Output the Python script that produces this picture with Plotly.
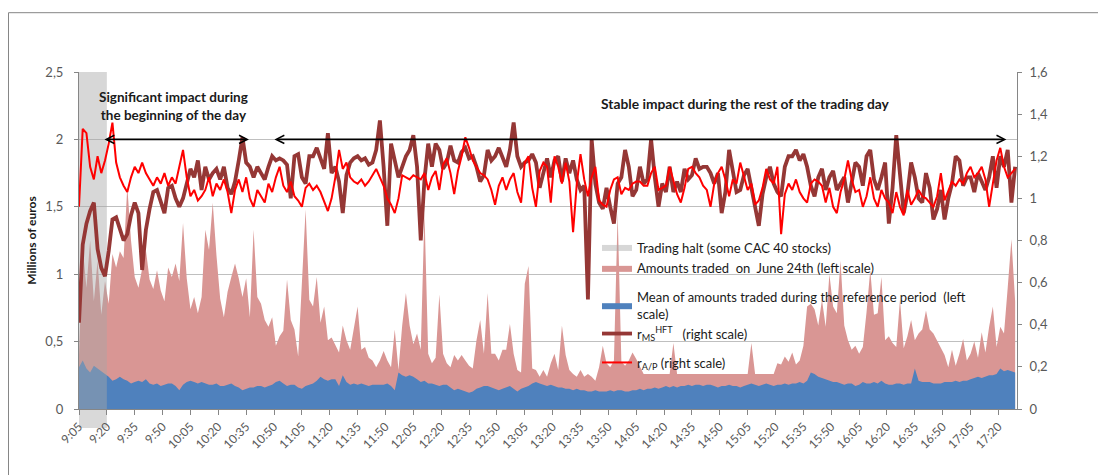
import plotly.graph_objects as go

# ---------------- data ----------------
# one observation every 2 minutes, minutes counted from 9:05
minutes = list(range(0, 505, 2))

tick_labels = ["9:05", "9:20", "9:35", "9:50", "10:05", "10:20", "10:35", "10:50",
               "11:05", "11:20", "11:35", "11:50", "12:05", "12:20", "12:35", "12:50",
               "13:05", "13:20", "13:35", "13:50", "14:05", "14:20", "14:35", "14:50",
               "15:05", "15:20", "15:35", "15:50", "16:05", "16:20", "16:35", "16:50",
               "17:05", "17:20"]
tick_minutes = list(range(0, 496, 15))

# Amounts traded on June 24th (millions of euros, left scale)
amounts_june24 = [
    0.40, 1.20, 0.90, 1.25, 0.80, 1.10, 0.70, 0.95, 0.78, 1.15,
    1.05, 1.17, 1.12, 1.65, 1.25, 0.98, 0.90, 1.03, 1.18, 0.96,
    0.89, 1.03, 0.88, 0.80, 1.05, 0.98, 1.08, 0.95, 1.38, 0.97,
    0.74, 0.83, 0.71, 0.83, 1.33, 1.18, 1.53, 1.14, 0.82, 0.68,
    0.87, 0.98, 1.08, 0.97, 0.83, 0.97, 0.68, 1.33, 0.83, 0.78,
    0.66, 0.61, 0.68, 0.47, 0.54, 0.58, 0.96, 0.66, 0.59, 0.39,
    0.95, 1.48, 0.81, 0.76, 0.98, 0.64, 0.76, 0.51, 0.53, 0.48,
    0.42, 0.62, 0.51, 0.44, 0.59, 0.76, 0.44, 0.46, 0.38, 0.36,
    0.31, 0.36, 0.43, 0.36, 0.31, 0.59, 0.29, 0.62, 0.86, 0.62,
    0.48, 0.56, 0.44, 1.46, 0.41, 0.34, 0.38, 0.85, 0.41, 0.34,
    0.31, 0.40, 0.36, 0.40, 0.36, 0.32, 0.30, 0.51, 0.66, 0.41,
    0.86, 0.41, 0.41, 0.36, 0.44, 0.44, 0.63, 0.41, 0.29, 0.27,
    0.93, 1.06, 0.30, 0.29, 0.24, 0.29, 0.24, 0.34, 0.41, 0.29,
    0.62, 0.40, 0.29, 0.26, 0.24, 0.29, 0.24, 0.26, 0.24, 0.21,
    0.31, 0.47, 0.34, 0.31, 0.36, 1.45, 0.35, 0.32, 0.36, 0.42,
    0.37, 0.31, 0.26, 0.26, 0.26, 0.26, 0.26, 0.26, 0.26, 0.26,
    0.49, 0.26, 0.26, 0.26, 0.26, 0.26, 0.26, 0.26, 0.26, 0.26,
    0.26, 0.26, 0.26, 0.26, 0.26, 0.26, 0.26, 0.26, 0.26, 0.26,
    0.26, 0.49, 0.26, 0.26, 0.26, 0.26, 0.26, 0.26, 0.34, 0.33,
    0.39, 0.35, 0.42, 0.33, 0.36, 0.47, 0.76, 0.78, 0.74, 0.62,
    0.81, 0.61, 1.00, 0.76, 0.71, 1.10, 0.62, 0.51, 0.44, 0.47,
    0.41, 0.46, 0.72, 1.03, 0.70, 0.71, 0.98, 0.51, 0.54, 0.49,
    0.46, 0.81, 0.45, 0.54, 0.66, 0.51, 0.56, 0.59, 0.73, 0.59,
    0.56, 0.51, 0.46, 0.40, 0.31, 0.44, 0.32, 0.41, 0.52, 0.36,
    0.41, 0.50, 0.38, 0.57, 0.42, 0.61, 0.76, 0.46, 0.61, 0.56,
    0.90, 1.26, 0.80,
]

# Mean of amounts traded during the reference period (left scale)
amounts_reference = [
    0.31, 0.36, 0.30, 0.27, 0.32, 0.30, 0.28, 0.26, 0.24, 0.21,
    0.22, 0.24, 0.22, 0.21, 0.19, 0.20, 0.21, 0.20, 0.22, 0.19,
    0.18, 0.19, 0.17, 0.18, 0.19, 0.19, 0.17, 0.14, 0.18, 0.20,
    0.21, 0.20, 0.19, 0.20, 0.19, 0.18, 0.18, 0.19, 0.17, 0.17,
    0.18, 0.19, 0.17, 0.16, 0.14, 0.15, 0.16, 0.16, 0.17, 0.17,
    0.16, 0.17, 0.18, 0.20, 0.21, 0.19, 0.17, 0.18, 0.18, 0.16,
    0.15, 0.17, 0.18, 0.19, 0.21, 0.24, 0.22, 0.21, 0.22, 0.22,
    0.17, 0.25, 0.20, 0.18, 0.19, 0.18, 0.19, 0.18, 0.17, 0.18,
    0.18, 0.18, 0.18, 0.19, 0.17, 0.14, 0.27, 0.25, 0.24, 0.25,
    0.24, 0.22, 0.20, 0.21, 0.19, 0.19, 0.18, 0.17, 0.18, 0.18,
    0.16, 0.14, 0.15, 0.14, 0.13, 0.12, 0.13, 0.15, 0.16, 0.17,
    0.17, 0.16, 0.15, 0.14, 0.15, 0.16, 0.17, 0.15, 0.13, 0.15,
    0.16, 0.17, 0.19, 0.20, 0.19, 0.18, 0.17, 0.18, 0.17, 0.16,
    0.16, 0.15, 0.15, 0.14, 0.15, 0.14, 0.14, 0.13, 0.13, 0.14,
    0.13, 0.13, 0.13, 0.14, 0.13, 0.14, 0.14, 0.13, 0.13, 0.14,
    0.14, 0.15, 0.14, 0.15, 0.15, 0.16, 0.15, 0.16, 0.17, 0.16,
    0.17, 0.16, 0.17, 0.17, 0.18, 0.17, 0.18, 0.18, 0.17, 0.18,
    0.18, 0.17, 0.16, 0.17, 0.17, 0.18, 0.17, 0.17, 0.16, 0.17,
    0.18, 0.19, 0.18, 0.17, 0.18, 0.19, 0.18, 0.17, 0.18, 0.18,
    0.19, 0.18, 0.19, 0.19, 0.20, 0.19, 0.21, 0.27, 0.26, 0.24,
    0.23, 0.22, 0.21, 0.20, 0.20, 0.19, 0.18, 0.19, 0.19, 0.17,
    0.18, 0.20, 0.19, 0.19, 0.20, 0.19, 0.21, 0.19, 0.18, 0.18,
    0.19, 0.19, 0.18, 0.19, 0.19, 0.30, 0.21, 0.20, 0.20, 0.20,
    0.19, 0.19, 0.19, 0.20, 0.20, 0.20, 0.21, 0.20, 0.21, 0.21,
    0.22, 0.23, 0.24, 0.23, 0.24, 0.25, 0.25, 0.26, 0.30, 0.28,
    0.29, 0.28, 0.27,
]

# r_MS^HFT (right scale)
r_ms_hft = [
    0.41, 0.78, 0.88, 0.94, 0.98, 0.76, 0.67, 0.63, 0.75, 0.90,
    0.91, 0.86, 0.80, 0.83, 0.92, 0.98, 0.93, 0.66, 0.85, 0.95,
    1.03, 1.04, 0.99, 0.93, 1.05, 1.06, 1.00, 0.96, 1.00, 1.08,
    1.14, 1.10, 1.18, 1.04, 1.15, 1.09, 1.12, 1.14, 1.09, 1.15,
    1.05, 1.02, 1.08, 1.18, 1.29, 1.17, 1.15, 1.10, 1.15, 1.12,
    1.09, 1.15, 1.20, 1.18, 1.19, 1.18, 1.16, 1.00, 1.20, 1.21,
    1.10, 1.07, 1.20, 1.20, 1.24, 1.19, 1.14, 1.31, 1.12, 1.15,
    1.08, 0.93, 1.11, 1.17, 1.19, 1.20, 1.18, 1.19, 1.16, 1.17,
    1.23, 1.37, 1.15, 0.87, 1.26, 1.18, 1.10, 1.15, 1.20, 1.23,
    1.30, 1.15, 0.80, 1.09, 1.26, 1.15, 1.26, 1.23, 1.14, 1.17,
    1.25, 1.18, 1.17, 1.22, 1.24, 1.19, 1.20, 1.15, 1.08, 1.11,
    1.23, 1.18, 1.20, 1.24, 1.20, 1.15, 1.23, 1.36, 1.20, 1.15,
    1.17, 1.18, 1.21, 1.17, 1.05, 1.12, 1.19, 1.10, 1.18, 1.20,
    1.08, 1.19, 1.12, 1.18, 1.09, 1.04, 1.06, 0.52, 1.28, 1.07,
    0.98, 0.95, 1.05, 0.96, 0.88, 1.07, 1.10, 1.23, 1.15, 1.01,
    1.04, 1.15, 1.07, 1.09, 1.28, 1.10, 0.96, 1.07, 1.03, 1.15,
    1.03, 1.08, 1.03, 1.14, 1.09, 1.11, 1.19, 1.14, 1.15, 1.15,
    1.12, 1.07, 1.12, 0.93, 1.03, 1.23, 1.14, 1.03, 1.04, 1.11,
    1.14, 1.05, 0.96, 0.87, 1.02, 1.10, 1.15, 1.07, 1.03, 1.01,
    1.15, 1.20, 1.20, 1.23, 1.18, 1.21, 1.15, 1.06, 1.01, 1.10,
    1.14, 1.04, 1.10, 1.13, 1.04, 1.07, 1.10, 0.98, 1.07, 1.17,
    1.15, 1.06, 1.20, 1.23, 1.09, 1.04, 1.10, 1.17, 0.88, 1.05,
    1.30, 1.12, 0.93, 1.02, 1.17, 1.10, 1.00, 0.98, 1.12, 1.05,
    0.90, 0.95, 1.04, 0.90, 1.00, 1.07, 1.20, 1.18, 1.06, 1.10,
    1.10, 1.03, 1.12, 1.08, 1.04, 1.10, 1.20, 1.05, 1.20, 1.15,
    1.23, 0.98, 1.15,
]

# r_A/P (right scale)
r_ap = [
    0.96, 1.33, 1.31, 1.15, 1.09, 1.20, 1.12, 1.18, 1.26, 1.36,
    1.17, 1.10, 1.06, 1.03, 1.10, 1.15, 1.12, 1.17, 1.12, 1.09,
    1.06, 1.10, 1.07, 1.12, 1.06, 1.10, 1.07, 1.15, 1.23, 1.10,
    1.01, 1.04, 0.99, 1.01, 1.04, 1.10, 1.01, 1.07, 1.04, 1.09,
    1.03, 0.93, 1.04, 1.09, 1.03, 1.10, 1.00, 0.96, 1.04, 1.01,
    0.98, 1.07, 1.03, 1.10, 1.15, 1.06, 1.03, 1.08, 1.01, 0.99,
    0.96, 1.05, 1.07, 1.04, 1.06, 1.03, 0.98, 0.94, 1.00, 1.10,
    1.23, 1.14, 1.17, 1.10, 1.08, 1.07, 1.09, 1.06, 1.08, 1.11,
    1.14, 1.10, 1.06, 1.00, 0.97, 0.93, 1.00, 1.11, 1.10, 1.09,
    1.11, 1.10, 1.09, 1.12, 1.04, 1.10, 1.13, 1.04, 1.16, 1.19,
    1.12, 1.02, 1.13, 1.20, 1.29, 1.24, 1.18, 1.15, 1.12, 1.11,
    1.09, 1.04, 0.97, 1.06, 1.10, 1.04, 1.09, 1.12, 1.03, 0.98,
    1.17, 1.20, 1.05, 0.96, 1.13, 1.17, 1.15, 0.98, 1.20, 1.15,
    1.07, 1.17, 1.08, 0.84, 1.07, 1.21, 1.09, 1.01, 1.10, 1.15,
    0.99, 0.97, 0.96, 1.04, 1.09, 1.10, 1.02, 1.05, 1.04, 1.07,
    1.08, 1.08, 1.06, 1.06, 1.12, 1.15, 1.04, 1.05, 1.06, 1.15,
    1.08, 1.02, 0.98, 1.05, 1.14, 1.15, 1.12, 1.10, 1.06, 1.04,
    0.96, 1.07, 1.12, 1.15, 1.09, 1.01, 1.09, 1.07, 1.17, 1.10,
    1.04, 1.07, 0.97, 0.99, 1.05, 1.14, 1.09, 1.07, 1.15, 0.83,
    1.02, 1.07, 1.04, 1.09, 1.03, 1.00, 0.98, 1.07, 1.09, 1.08,
    1.06, 0.98, 1.05, 0.96, 0.93, 1.03, 1.09, 1.18, 1.09, 1.03,
    1.04, 0.96, 1.01, 1.10, 1.00, 0.96, 1.04, 1.00, 0.98, 0.93,
    1.03, 0.96, 0.92, 1.04, 0.97, 1.00, 1.04, 1.01, 1.00, 0.98,
    0.96, 1.01, 1.12, 0.99, 1.04, 1.08, 1.06, 1.09, 1.07, 1.12,
    1.15, 1.10, 1.12, 1.15, 1.09, 0.96, 1.07, 1.18, 1.24, 1.15,
    1.10, 1.12, 1.14,
]

# trading halt period (minutes from 9:05) and its height on the left scale
halt_minutes = [0, 15]
halt_height = [2.5, 2.5]

# arrows (minutes from 9:05, left-scale level)
arrow1_minutes = [12.9, 91.5]
arrow2_minutes = [104.4, 499.3]
arrow_level = 2.0

# ---------------- styling ----------------
PINK = "#D99694"
BLUE = "#4F81BD"
DARKRED = "#953735"
RED = "#FF0000"
AXIS = "#868686"
GRID = "#BFBFBF"
FONT = "Lato"

fig = go.Figure()

fig.add_trace(go.Scatter(
    x=minutes, y=amounts_june24, mode="lines", fill="tozeroy",
    line=dict(width=0, color=PINK), fillcolor=PINK,
    name="Amounts traded\u00a0 on\u00a0 June 24th (left scale)", legendrank=2,
    legendgroup="g1", hoverinfo="skip"))
fig.add_trace(go.Scatter(
    x=minutes, y=amounts_reference, mode="lines", fill="tozeroy",
    line=dict(width=0, color=BLUE), fillcolor=BLUE,
    name="Mean of amounts traded during the reference period\u00a0 (left<br>scale)",
    legendrank=3, legendgroup="g2", hoverinfo="skip"))
fig.add_trace(go.Scatter(
    x=halt_minutes, y=halt_height, mode="none", fill="tozeroy",
    fillcolor="rgba(166,166,166,0.45)",
    name="Trading halt (some CAC 40 stocks)", legendrank=1, legendgroup="g1",
    hoverinfo="skip"))
fig.add_trace(go.Scatter(
    x=minutes, y=r_ms_hft, mode="lines", yaxis="y2",
    line=dict(width=3.8, color=DARKRED),
    name="r<sub>MS</sub><sup>HFT</sup>\u00a0\u00a0 (right scale)", legendrank=4,
    legendgroup="g2", hoverinfo="skip"))
fig.add_trace(go.Scatter(
    x=minutes, y=r_ap, mode="lines", yaxis="y2",
    line=dict(width=2, color=RED),
    name="r<sub>A/P</sub> (right scale)", legendrank=5, legendgroup="g3",
    hoverinfo="skip"))

# plot area: x 79..1017, y 72..409 in the reference (page has an 8px body margin)
W, H = 1098, 467
ML, MT, PW, PH = 71, 64, 938, 337


def px_x(ref_x):
    return (ref_x - 79) / PW


def px_y(ref_y):
    return (409 - ref_y) / PH


shapes = [
    # outer chart frame
    dict(type="rect", xref="paper", yref="paper", x0=px_x(8.5), x1=1.3,
         y0=-0.6, y1=px_y(12.7), line=dict(color=AXIS, width=1), fillcolor="rgba(0,0,0,0)",
         layer="below"),
    # halt column below the axis
    dict(type="rect", xref="x", yref="paper", x0=halt_minutes[0], x1=halt_minutes[1],
         y0=px_y(428), y1=0, line=dict(width=0), fillcolor="#D9D9D9", layer="below"),
]

annotations = [
    dict(x=51, y=2.245, xref="x", yref="y",
         text="<b>Significant impact during<br>the beginning of the day</b>",
         showarrow=False, font=dict(family=FONT, size=13.5, color="#1a1a1a")),
    dict(x=359, y=2.27, xref="x", yref="y",
         text="<b>Stable impact during the rest of the trading day</b>",
         showarrow=False, font=dict(family=FONT, size=13.8, color="#1a1a1a")),
]
for a0, a1 in (arrow1_minutes, arrow2_minutes):
    annotations.append(dict(
        x=a1, y=arrow_level, ax=a0, ay=arrow_level, xref="x", yref="y",
        axref="x", ayref="y", text="", showarrow=True,
        arrowhead=5, startarrowhead=5, arrowside="end+start",
        arrowsize=1, startarrowsize=1, arrowwidth=1.6, arrowcolor="#000000",
        standoff=0, startstandoff=0))

fig.update_layout(
    width=W, height=H,
    margin=dict(l=ML, r=W - ML - PW, t=MT, b=H - MT - PH, pad=0),
    paper_bgcolor="white", plot_bgcolor="white",
    separators=", ",
    font=dict(family=FONT, size=13, color="#595959"),
    showlegend=True,
    legend=dict(x=px_x(597), y=px_y(233), xanchor="left", yanchor="top",
                bgcolor="rgba(0,0,0,0)", font=dict(family=FONT, size=13, color="#1a1a1a"),
                traceorder="grouped", itemwidth=30, tracegroupgap=9),
    xaxis=dict(range=[0, 505], tickvals=tick_minutes, ticktext=tick_labels,
               tickangle=-45, ticks="outside", ticklen=5, tickcolor=AXIS,
               showline=True, linecolor=AXIS, linewidth=1, showgrid=False,
               zeroline=False, tickfont=dict(size=12, color="#595959")),
    yaxis=dict(range=[0, 2.5], tickvals=[0, 0.5, 1, 1.5, 2, 2.5], ticks="outside",
               ticklen=4, tickcolor=AXIS, showline=True, linecolor=AXIS,
               showgrid=True, gridcolor=GRID, gridwidth=1, zeroline=False,
               ticklabelstandoff=8,
               tickfont=dict(size=13, color="#595959"),
               title=dict(text="<b>Millions of euros</b>",
                          font=dict(size=12, color="#1a1a1a"), standoff=6)),
    yaxis2=dict(range=[0, 1.6], tickvals=[0, 0.2, 0.4, 0.6, 0.8, 1, 1.2, 1.4, 1.6],
                overlaying="y", side="right", ticks="outside", ticklen=4,
                tickcolor=AXIS, showline=True, linecolor=AXIS, showgrid=False,
                zeroline=False, ticklabelstandoff=5,
                tickfont=dict(size=13, color="#595959")),
    shapes=shapes,
    annotations=annotations,
)

fig.write_html("out.html")
